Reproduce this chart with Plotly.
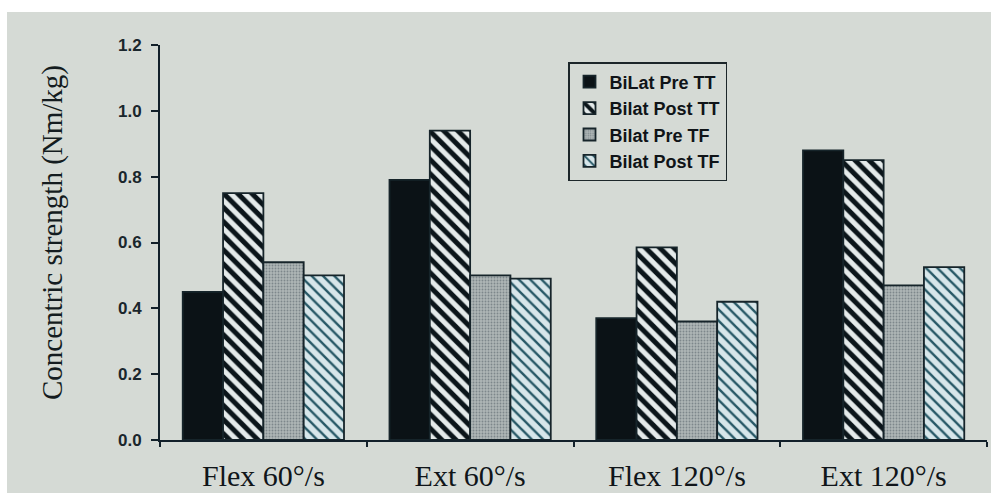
import plotly.graph_objects as go

# Concentric strength by test condition (Nm/kg)
categories = ["Flex 60°/s", "Ext 60°/s", "Flex 120°/s", "Ext 120°/s"]
series_names = ["BiLat Pre TT", "Bilat Post TT", "Bilat Pre TF", "Bilat Post TF"]
bilat_pre_tt = [0.45, 0.79, 0.37, 0.88]
bilat_post_tt = [0.75, 0.94, 0.585, 0.85]
bilat_pre_tf = [0.54, 0.50, 0.36, 0.47]
bilat_post_tf = [0.50, 0.49, 0.42, 0.525]
y_ticks = [0.0, 0.2, 0.4, 0.6, 0.8, 1.0, 1.2]

W, H = 991, 493
ML, MR, MT, MB = 160, 4, 45, 53
PW, PH = W - ML - MR, H - MT - MB

PAPER = "#d5dad5"
INK = "#12202a"
OUTLINE = "#16242a"

styles = [
    dict(color="#0b1216", pattern=dict(shape="")),
    dict(color="#e4eaea", pattern=dict(shape="\\", fgcolor="#0b151a", bgcolor="#e4eaea",
                                      fgopacity=1, size=10, solidity=0.5)),
    dict(color="#a9b1b1", pattern=dict(shape=".", fgcolor="#7d878b", bgcolor="#aeb6b6",
                                      fgopacity=1, size=3, solidity=0.3)),
    dict(color="#d7e6ea", pattern=dict(shape="\\", fgcolor="#275866", bgcolor="#d7e6ea",
                                      fgopacity=1, size=8, solidity=0.3)),
]

fig = go.Figure()
for i, (name, vals) in enumerate(zip(series_names,
                                     [bilat_pre_tt, bilat_post_tt, bilat_pre_tf, bilat_post_tf])):
    st = styles[i]
    fig.add_trace(go.Bar(
        x=categories, y=vals, name=name, legendgroup=name,
        marker=dict(color=st["color"], pattern=st["pattern"],
                    line=dict(color=OUTLINE, width=1.8)),
    ))

# paper background with white strip along top and left edges
def px_x(p):
    return (p - ML) / PW

def px_y(p):
    return (H - MB - p) / PH

fig.add_shape(type="rect", xref="paper", yref="paper",
              x0=px_x(7), x1=px_x(W + 5), y0=px_y(H + 5), y1=px_y(12),
              fillcolor=PAPER, line=dict(width=0), layer="below")

fig.add_annotation(
    text="Concentric strength (Nm/kg)", textangle=-90,
    xref="paper", yref="paper", x=px_x(52), y=px_y(232),
    xanchor="center", yanchor="middle", showarrow=False,
    font=dict(family="Liberation Serif", size=29, color="#141c20"),
)

fig.update_layout(
    width=W, height=H,
    margin=dict(l=ML, r=MR, t=MT, b=MB, autoexpand=False),
    paper_bgcolor="white",
    plot_bgcolor="rgba(0,0,0,0)",
    barmode="group", bargap=0.22, bargroupgap=0,
    showlegend=True,
    legend=dict(
        x=px_x(568), y=px_y(62), xanchor="left", yanchor="top",
        bgcolor="rgba(0,0,0,0)", bordercolor="#1c262a", borderwidth=1.5,
        font=dict(family="Liberation Sans", size=18, color="#101418", weight="bold"),
        tracegroupgap=0, itemwidth=30,
    ),
    xaxis=dict(
        range=[-0.5, 3.5], showgrid=False, zeroline=False,
        showline=True, linecolor=INK, linewidth=1.8,
        ticks="outside", tickson="boundaries", ticklen=5, tickcolor=INK, tickwidth=1.5,
        tickfont=dict(family="Liberation Serif", size=30, color="#101519"),
        ticklabelstandoff=8,
    ),
    yaxis=dict(
        range=[0, 1.2], tickvals=y_ticks, tickformat=".1f",
        showgrid=False, zeroline=False,
        showline=True, linecolor=INK, linewidth=1.8,
        ticks="outside", ticklen=7, tickcolor=INK, tickwidth=1.5,
        tickfont=dict(family="Liberation Sans", size=17, color="#1a262c", weight="bold"),
        ticklabelstandoff=6,
    ),
)

fig.write_html("out.html")
